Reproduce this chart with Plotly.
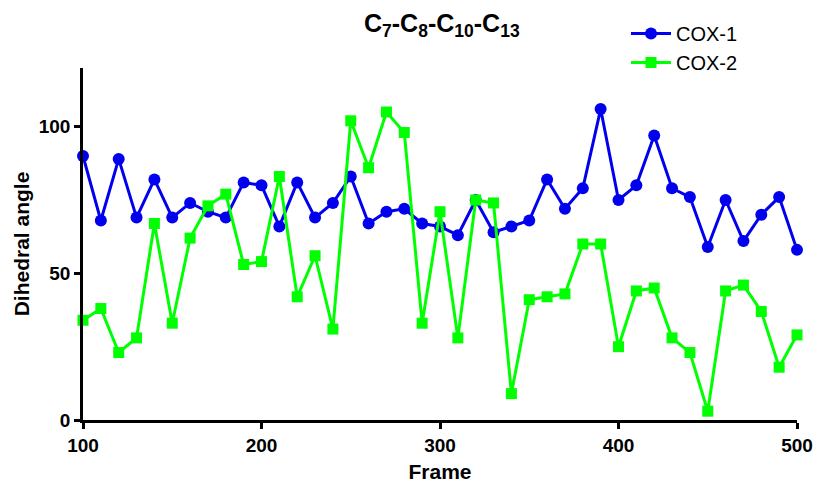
import plotly.graph_objects as go

frames = list(range(100, 501, 10))
cox1 = [90, 68, 89, 69, 82, 69, 74, 71, 69, 81,
        80, 66, 81, 69, 74, 83, 67, 71, 72, 67,
        66, 63, 75, 64, 66, 68, 82, 72, 79, 106,
        75, 80, 97, 79, 76, 59, 75, 61, 70, 76, 58]
cox2 = [34, 38, 23, 28, 67, 33, 62, 73, 77, 53,
        54, 83, 42, 56, 31, 102, 86, 105, 98, 33,
        71, 28, 75, 74, 9, 41, 42, 43, 60, 60,
        25, 44, 45, 28, 23, 3, 44, 46, 37, 18, 29]
series_names = ["COX-1", "COX-2"]
x_ticks = [100, 200, 300, 400, 500]
y_ticks = [0, 50, 100]

FONT = "Arial, Liberation Sans, sans-serif"
BLUE = "#0000EE"
GREEN = "#00FF00"

W, H = 816, 483
ML, MR, MT, MB = 83, 19, 68, 63
PW, PH = W - ML - MR, H - MT - MB


def px_x(p):
    return (p - ML) / PW


def px_y(p):
    return 1 - (p - MT) / PH


fig = go.Figure()
fig.add_trace(go.Scatter(
    x=frames, y=cox1, name=series_names[0], mode="lines+markers",
    line=dict(color=BLUE, width=3),
    marker=dict(symbol="circle", size=12, color=BLUE),
    cliponaxis=False,
))
fig.add_trace(go.Scatter(
    x=frames, y=cox2, name=series_names[1], mode="lines+markers",
    line=dict(color=GREEN, width=3),
    marker=dict(symbol="square", size=11, color=GREEN),
    cliponaxis=False,
))

fig.update_layout(
    width=W, height=H,
    margin=dict(l=ML, r=MR, t=MT, b=MB, autoexpand=False),
    paper_bgcolor="white", plot_bgcolor="white",
    font=dict(family=FONT, color="black"),
    showlegend=True,
    legend=dict(
        x=px_x(626), y=px_y(82), xref="paper", yref="paper",
        xanchor="left", yanchor="bottom",
        font=dict(size=20, family=FONT, color="black"),
        bgcolor="rgba(0,0,0,0)", itemwidth=40,
        tracegroupgap=0,
    ),
    annotations=[
        dict(text="<b>C<sub>7</sub>-C<sub>8</sub>-C<sub>10</sub>-C<sub>13</sub></b>",
             x=px_x(442), xref="paper", y=px_y(25), yref="paper", showarrow=False,
             font=dict(size=25, family=FONT, color="black"),
             xanchor="center", yanchor="middle"),
    ],
)

fig.update_xaxes(
    range=[100, 500], tickvals=x_ticks, ticktext=[str(v) for v in x_ticks],
    showgrid=False, zeroline=False, showline=True, linecolor="black", linewidth=2.5,
    ticks="outside", ticklen=6, tickwidth=2.5, tickcolor="black", automargin=False,
    tickfont=dict(size=19, family=FONT, color="black", weight="bold"),
    title=dict(text="<b>Frame</b>", font=dict(size=21, family=FONT, color="black"), standoff=15),
)
fig.update_yaxes(
    range=[0, 120], tickvals=y_ticks, ticktext=[str(v) for v in y_ticks],
    showgrid=False, zeroline=False, showline=True, linecolor="black", linewidth=2.5,
    ticks="outside", ticklen=6, tickwidth=2.5, tickcolor="black", automargin=False,
    tickfont=dict(size=19, family=FONT, color="black", weight="bold"),
    title=dict(text="<b>Dihedral angle</b>", font=dict(size=21, family=FONT, color="black"), standoff=4),
)

fig.write_html(
    "out.html",
    config={"displayModeBar": False},
    post_script="document.body.style.margin='0px';document.body.style.overflow='hidden';",
)
